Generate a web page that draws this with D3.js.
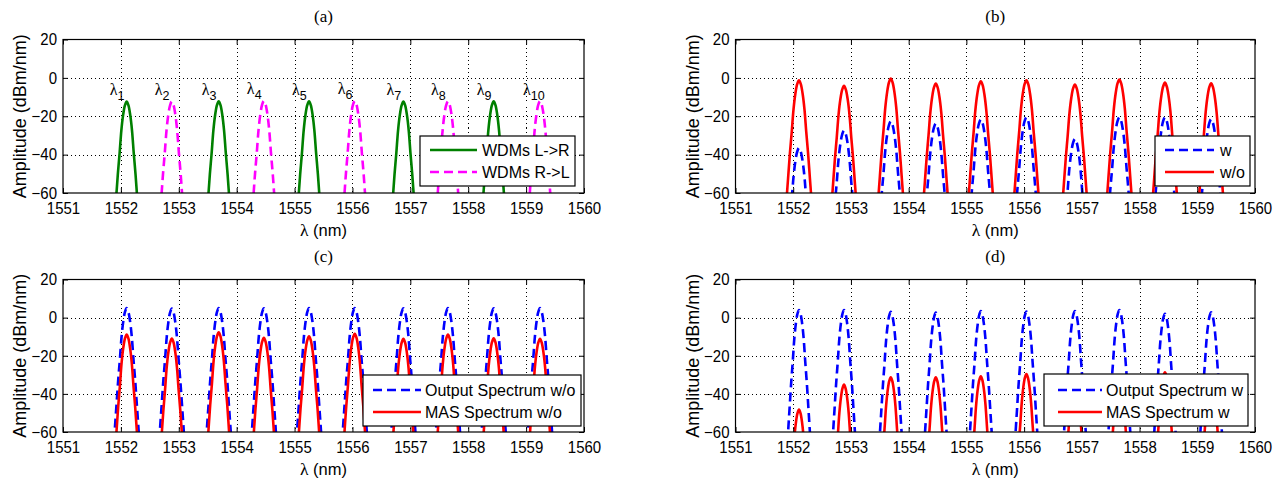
<!DOCTYPE html>
<html><head><meta charset="utf-8">
<script src="https://cdn.jsdelivr.net/npm/d3@7"></script>
<style>body{margin:0;background:#fff;} svg{display:block;font-family:"Liberation Sans",Arial,sans-serif;}</style>
</head><body><svg id="chart" width="1283" height="483"></svg>
<script>
// ---------------- data ----------------
const channelNm = [1552.10, 1552.88, 1553.69, 1554.47, 1555.25, 1556.04, 1556.88, 1557.65, 1558.44, 1559.24];
const channelLabels = ["1","2","3","4","5","6","7","8","9","10"];
const xTicks = [1551, 1552, 1553, 1554, 1555, 1556, 1557, 1558, 1559, 1560];
const yTicks = [20, 0, -20, -40, -60];

// measured shape of one channel: offset from centre (nm) vs drop below the peak (dB)
const profileOffset = [0, 0.03, 0.06, 0.09, 0.12, 0.15, 0.18, 0.21, 0.24, 0.27];
const profileDrop   = [0, 2, 7, 15, 27, 38, 51, 64, 78, 92];

// (a)
const wdmLRChannels = [0, 2, 4, 6, 8];
const wdmLRPeaks    = [-12.3, -12.2, -12.2, -12.3, -12.2];
const wdmRLChannels = [1, 3, 5, 7, 9];
const wdmRLPeaks    = [-12.3, -12.0, -12.0, -12.2, -12.1];
// (b)
const bWPeaks  = [-36.5, -27.4, -22.6, -23.8, -21.7, -20.5, -31.8, -20.5, -20.5, -21.5];
const bWoPeaks = [-1.3, -4.1, -0.4, -3.0, -1.8, -1.3, -3.5, -0.9, -2.5, -2.8];
// (c)
const cOutputPeaks = [5.0, 4.8, 5.0, 4.9, 5.0, 5.0, 4.9, 5.0, 4.9, 5.0];
const cMasPeaks    = [-8.9, -11.0, -7.7, -10.6, -9.8, -8.5, -11.1, -8.9, -10.9, -11.1];
// (d)
const dOutputPeaks = [4.0, 4.0, 3.0, 2.6, 3.5, 3.2, 3.5, 4.0, 2.0, 2.8];
const dMasPeaks    = [-48.2, -35.1, -31.3, -31.3, -30.8, -29.6, -31.0, -31.0, -28.7, -31.0];
// spectral width factor of each panel
const spreadA = 1.02, spreadB = 1.05, spreadC = 0.98, spreadD = 0.9;

const allCh = d3.range(channelNm.length);

// ---------------- layout ----------------
const panels = [
  {id:"a", title:"(a)", x0:63, x1:584, y0:39.5, y1:193,
   series:[
     {name:"WDMs L->R", ch:wdmLRChannels, peaks:wdmLRPeaks, color:"#008000", dash:null, spread:spreadA},
     {name:"WDMs R->L", ch:wdmRLChannels, peaks:wdmRLPeaks, color:"#ff00ff", dash:"9,5", spread:spreadA}],
   legend:{x:420, y:136, w:155, h:50, lx0:430, lx1:477, tx:482, rows:[150,172]}, lambdas:true},
  {id:"b", title:"(b)", x0:735.5, x1:1255, y0:39.5, y1:193,
   series:[
     {name:"w", ch:allCh, peaks:bWPeaks, color:"#0000ff", dash:"9,5", spread:spreadB},
     {name:"w/o", ch:allCh, peaks:bWoPeaks, color:"#ff0000", dash:null, spread:spreadB}],
   legend:{x:1155, y:136, w:95, h:50, lx0:1165, lx1:1214, tx:1220, rows:[150,172]}},
  {id:"c", title:"(c)", x0:63, x1:584, y0:279.5, y1:432,
   series:[
     {name:"Output Spectrum w/o", ch:allCh, peaks:cOutputPeaks, color:"#0000ff", dash:"9,5", spread:spreadC},
     {name:"MAS Spectrum w/o", ch:allCh, peaks:cMasPeaks, color:"#ff0000", dash:null, spread:spreadC}],
   legend:{x:363, y:375, w:218, h:51, lx0:373, lx1:421, tx:425, rows:[390,412]}},
  {id:"d", title:"(d)", x0:735.5, x1:1255, y0:279.5, y1:432,
   series:[
     {name:"Output Spectrum w", ch:allCh, peaks:dOutputPeaks, color:"#0000ff", dash:"9,5", spread:spreadD},
     {name:"MAS Spectrum w", ch:allCh, peaks:dMasPeaks, color:"#ff0000", dash:null, spread:spreadD}],
   legend:{x:1044, y:374, w:204, h:52, lx0:1058, lx1:1102, tx:1106, rows:[390,412]}}
];

const svg = d3.select("#chart");
svg.append("rect").attr("width",1283).attr("height",483).attr("fill","#fff");

panels.forEach(p => {
  const x = d3.scaleLinear().domain([xTicks[0], xTicks[xTicks.length-1]]).range([p.x0, p.x1]);
  const y = d3.scaleLinear().domain([yTicks[yTicks.length-1], yTicks[0]]).range([p.y1, p.y0]);
  const g = svg.append("g");
  const cx = (p.x0 + p.x1) / 2, cy = (p.y0 + p.y1) / 2;

  g.append("rect").attr("x",p.x0).attr("y",p.y0).attr("width",p.x1-p.x0).attr("height",p.y1-p.y0).attr("fill","#fff");

  // grid
  const grid = g.append("g").attr("stroke","#000").attr("stroke-width",1).attr("stroke-dasharray","1,3").attr("shape-rendering","crispEdges");
  xTicks.slice(1,-1).forEach(t => grid.append("line").attr("x1",Math.round(x(t))+0.5).attr("x2",Math.round(x(t))+0.5).attr("y1",p.y0).attr("y2",p.y1));
  yTicks.slice(1,-1).forEach(t => grid.append("line").attr("y1",Math.round(y(t))+0.5).attr("y2",Math.round(y(t))+0.5).attr("x1",p.x0).attr("x2",p.x1));

  // curves
  const clipId = "clip-" + p.id;
  svg.append("clipPath").attr("id",clipId).append("rect").attr("x",p.x0).attr("y",p.y0).attr("width",p.x1-p.x0).attr("height",p.y1-p.y0);
  const curves = g.append("g").attr("clip-path",`url(#${clipId})`);
  const line = d3.line().x(d => x(d[0])).y(d => y(d[1])).curve(d3.curveCatmullRom);
  p.series.forEach(s => {
    s.ch.forEach((c, i) => {
      const centre = channelNm[c], peak = s.peaks[i];
      const pts = [];
      for (let k = profileOffset.length-1; k > 0; k--) pts.push([centre - profileOffset[k]*s.spread, peak - profileDrop[k]]);
      for (let k = 0; k < profileOffset.length; k++) pts.push([centre + profileOffset[k]*s.spread, peak - profileDrop[k]]);
      curves.append("path").attr("d", line(pts)).attr("fill","none").attr("stroke",s.color)
        .attr("stroke-width",2.6).attr("stroke-dasharray", s.dash).attr("stroke-linejoin","round");
    });
  });

  // lambda labels
  if (p.lambdas) {
    p.series.forEach(s => s.ch.forEach((c, i) => {
      const t = g.append("text").attr("x", x(channelNm[c]) - 17).attr("y", y(s.peaks[i]) - 6.5)
        .attr("font-size",15).attr("fill","#000");
      t.append("tspan").attr("font-family","Liberation Serif").attr("font-size",16).text("λ");
      t.append("tspan").attr("dy",5).attr("font-size",12.5).text(channelLabels[c]);
    }));
  }

  // axes
  const ax = g.append("g").attr("transform",`translate(0,${p.y1})`)
    .call(d3.axisBottom(x).tickValues(xTicks).tickFormat(d3.format("d")).tickSizeInner(-5).tickSizeOuter(0).tickPadding(8));
  const ay = g.append("g").attr("transform",`translate(${p.x0},0)`)
    .call(d3.axisLeft(y).tickValues(yTicks).tickSizeInner(-5).tickSizeOuter(0).tickPadding(6));
  const at = g.append("g").attr("transform",`translate(0,${p.y0})`)
    .call(d3.axisTop(x).tickValues(xTicks).tickFormat("").tickSizeInner(-5).tickSizeOuter(0));
  const ar = g.append("g").attr("transform",`translate(${p.x1},0)`)
    .call(d3.axisRight(y).tickValues(yTicks).tickFormat("").tickSizeInner(-5).tickSizeOuter(0));
  [ax, ay, at, ar].forEach(a => {
    a.select(".domain").remove();
    a.selectAll("text").attr("font-family","Liberation Sans").attr("font-size",15).attr("fill","#000")
      .attr("transform","scale(1,1.1)");
    a.selectAll("line").attr("stroke","#000");
  });
  g.append("rect").attr("x",p.x0).attr("y",p.y0).attr("width",p.x1-p.x0).attr("height",p.y1-p.y0)
    .attr("fill","none").attr("stroke","#000").attr("stroke-width",1.2);

  // legend
  const L = p.legend;
  g.append("rect").attr("x",L.x).attr("y",L.y).attr("width",L.w).attr("height",L.h)
    .attr("fill","#fff").attr("stroke","#000").attr("stroke-width",1.2);
  p.series.forEach((s, i) => {
    g.append("line").attr("x1",L.lx0).attr("x2",L.lx1).attr("y1",L.rows[i]).attr("y2",L.rows[i])
      .attr("stroke",s.color).attr("stroke-width",2.6).attr("stroke-dasharray",s.dash);
    g.append("text").attr("x",L.tx).attr("y",L.rows[i]+6).attr("font-size",16).attr("fill","#000").text(s.name);
  });

  // titles and axis labels
  g.append("text").attr("x",cx).attr("y",p.y0-18).attr("text-anchor","middle")
    .attr("font-family","Liberation Serif").attr("font-size",17).text(p.title);
  const xl = g.append("text").attr("x",cx).attr("y",p.y1+43).attr("text-anchor","middle").attr("font-size",16.5);
  xl.append("tspan").attr("font-family","Liberation Serif").attr("font-size",17.5).text("λ");
  xl.append("tspan").text(" (nm)");
  g.append("text").attr("transform",`translate(${p.x0-37},${cy}) rotate(-90)`).attr("text-anchor","middle")
    .attr("font-size",18).text("Amplitude (dBm/nm)");
});
</script></body></html>
